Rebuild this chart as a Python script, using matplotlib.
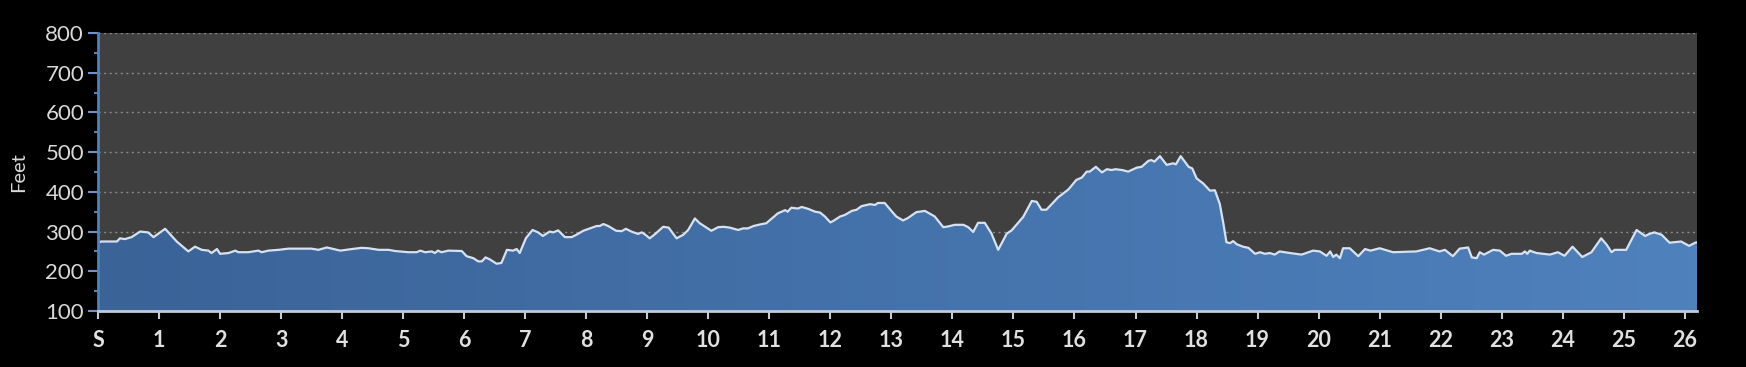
import numpy as np
import matplotlib
matplotlib.use('Agg')
import matplotlib.pyplot as plt
from matplotlib.colors import LinearSegmentedColormap
from matplotlib.patches import Polygon

# course elevation profile (mile, feet)
miles = [0.00, 0.05, 0.31, 0.36, 0.44, 0.55, 0.69, 0.82, 0.91, 1.10, 1.29, 1.48,
         1.59, 1.70, 1.81, 1.86, 1.95, 2.00, 2.14, 2.25, 2.30, 2.46, 2.63, 2.68,
         2.79, 2.96, 3.12, 3.50, 3.61, 3.75, 3.97, 4.16, 4.32, 4.43, 4.60, 4.76,
         4.87, 5.09, 5.22, 5.28, 5.36, 5.47, 5.52, 5.57, 5.63, 5.74, 5.96, 6.04,
         6.15, 6.23, 6.29, 6.35, 6.42, 6.53, 6.61, 6.70, 6.80, 6.86, 6.91, 7.01,
         7.12, 7.21, 7.29, 7.40, 7.46, 7.54, 7.65, 7.76, 7.84, 7.95, 8.06, 8.17,
         8.22, 8.28, 8.36, 8.49, 8.58, 8.65, 8.74, 8.85, 8.91, 8.96, 9.04, 9.13,
         9.26, 9.35, 9.48, 9.59, 9.67, 9.78, 9.86, 9.95, 10.05, 10.16, 10.25, 10.35,
         10.49, 10.57, 10.65, 10.74, 10.85, 10.95, 11.04, 11.14, 11.26, 11.30, 11.36, 11.47,
         11.53, 11.64, 11.75, 11.83, 11.91, 12.00, 12.05, 12.16, 12.24, 12.35, 12.43, 12.51,
         12.65, 12.73, 12.78, 12.89, 13.00, 13.08, 13.19, 13.27, 13.41, 13.55, 13.71, 13.85,
         13.93, 14.04, 14.18, 14.26, 14.34, 14.42, 14.53, 14.64, 14.75, 14.89, 14.97, 15.16,
         15.30, 15.38, 15.46, 15.54, 15.73, 15.90, 16.03, 16.12, 16.20, 16.25, 16.35, 16.45,
         16.53, 16.61, 16.67, 16.78, 16.88, 17.02, 17.10, 17.21, 17.26, 17.31, 17.40, 17.51,
         17.62, 17.66, 17.74, 17.87, 17.93, 18.00, 18.11, 18.22, 18.30, 18.38, 18.44, 18.49,
         18.55, 18.60, 18.66, 18.76, 18.85, 18.96, 19.04, 19.12, 19.20, 19.28, 19.36, 19.53,
         19.72, 19.91, 20.02, 20.13, 20.19, 20.24, 20.29, 20.35, 20.40, 20.51, 20.65, 20.76,
         20.85, 21.00, 21.22, 21.60, 21.82, 21.98, 22.07, 22.20, 22.31, 22.45, 22.51, 22.59,
         22.64, 22.71, 22.86, 22.97, 23.07, 23.16, 23.33, 23.38, 23.42, 23.46, 23.57, 23.79,
         23.92, 24.03, 24.16, 24.32, 24.47, 24.63, 24.72, 24.80, 24.85, 25.04, 25.21, 25.35,
         25.42, 25.50, 25.62, 25.75, 25.94, 26.07, 26.17, 26.20]
feet = [271, 275, 275, 283, 281, 286, 300, 298, 286, 307, 275, 250,
        262, 254, 252, 246, 256, 244, 246, 252, 248, 248, 252, 248,
        252, 254, 257, 257, 254, 260, 252, 256, 259, 258, 254, 254,
        251, 248, 248, 252, 248, 250, 246, 252, 248, 252, 251, 238,
        233, 225, 225, 235, 230, 219, 221, 254, 252, 256, 246, 283,
        304, 298, 289, 300, 298, 303, 286, 286, 292, 302, 308, 314,
        314, 319, 314, 302, 301, 307, 300, 294, 298, 293, 283, 294,
        312, 310, 283, 292, 304, 333, 321, 312, 302, 311, 312, 310,
        304, 308, 308, 314, 318, 321, 333, 346, 354, 350, 360, 358,
        362, 357, 350, 348, 338, 323, 327, 338, 342, 352, 355, 364,
        369, 367, 372, 372, 352, 338, 328, 334, 349, 352, 338, 311,
        313, 317, 317, 311, 299, 322, 322, 295, 254, 295, 303, 337,
        377, 375, 355, 355, 386, 406, 430, 436, 451, 451, 463, 449,
        457, 455, 457, 455, 451, 461, 463, 478, 480, 476, 490, 468,
        472, 469, 490, 463, 459, 434, 421, 403, 404, 370, 320, 273,
        271, 276, 268, 262, 259, 244, 248, 244, 246, 242, 250, 246,
        242, 252, 250, 239, 250, 236, 242, 233, 258, 258, 238, 256,
        252, 258, 248, 250, 258, 250, 254, 238, 257, 260, 235, 233,
        248, 242, 254, 252, 239, 244, 244, 250, 244, 252, 246, 242,
        248, 239, 262, 236, 248, 283, 267, 248, 254, 254, 304, 289,
        294, 298, 292, 272, 275, 264, 272, 273]

xticks = list(range(27))
xlabels = ['S'] + [str(i) for i in range(1, 27)]
yticks = [100, 200, 300, 400, 500, 600, 700, 800]

plt.rcParams['font.family'] = ['Lato', 'DejaVu Sans']

fig = plt.figure(figsize=(17.46, 3.67), dpi=100, facecolor='black')
ax = fig.add_axes([98/1746, 1 - 311/367, (1697 - 98)/1746, (311 - 33)/367])
ax.set_facecolor('#404040')

xmax = 26.2
ax.set_xlim(0, xmax)
ax.set_ylim(100, 800)

# dotted gridlines behind the fill
for y in yticks[1:]:
    ax.axhline(y, color='#8a8a8a', lw=1.0, ls=(0, (1.5, 2.5)), zorder=1)

# horizontal gradient fill clipped to the profile
cmap = LinearSegmentedColormap.from_list('elev', ['#3a6398', '#4f81bd'])
grad = np.linspace(0, 1, 256).reshape(1, -1)
im = ax.imshow(grad, extent=[0, xmax, 100, 800], aspect='auto', cmap=cmap,
               zorder=2, interpolation='bilinear')
verts = [(miles[0], 100)] + list(zip(miles, feet)) + [(miles[-1], 100)]
poly = Polygon(verts, closed=True, facecolor='none', edgecolor='none',
               transform=ax.transData)
ax.add_patch(poly)
im.set_clip_path(poly)
ax.plot(miles, feet, color='#d6e2f2', lw=1.6, zorder=3)

# axes styling
for s in ['top', 'right']:
    ax.spines[s].set_visible(False)
ax.spines['left'].set_color('#4f81bd')
ax.spines['left'].set_linewidth(2)
ax.spines['bottom'].set_color('#c3cbd8')
ax.spines['bottom'].set_linewidth(2)
ax.spines['left'].set_zorder(4)
ax.spines['bottom'].set_zorder(4)

ax.set_yticks(yticks)
ax.set_yticks([150, 250, 350, 450, 550, 650, 750], minor=True)
ax.set_yticklabels([str(v) for v in yticks])
ax.tick_params(axis='y', which='major', length=7, width=1.5, color='#6f93c8',
               labelcolor='#d9d9d9', labelsize=16, pad=3)
ax.tick_params(axis='y', which='minor', length=3, width=1.5, color='#4f81bd')

ax.set_xticks(xticks)
ax.set_xticklabels(xlabels, fontweight='bold')
ax.tick_params(axis='x', length=6, width=1.5, color='#c3cbd8', direction='out',
               labelcolor='#e0e0e0', labelsize=15.5, pad=8)

ax.set_ylabel('Feet', color='#d9d9d9', fontsize=14.5)
ax.yaxis.set_label_coords(-0.0444, 0.5)

fig.savefig('out.png', dpi=100, facecolor='black')
